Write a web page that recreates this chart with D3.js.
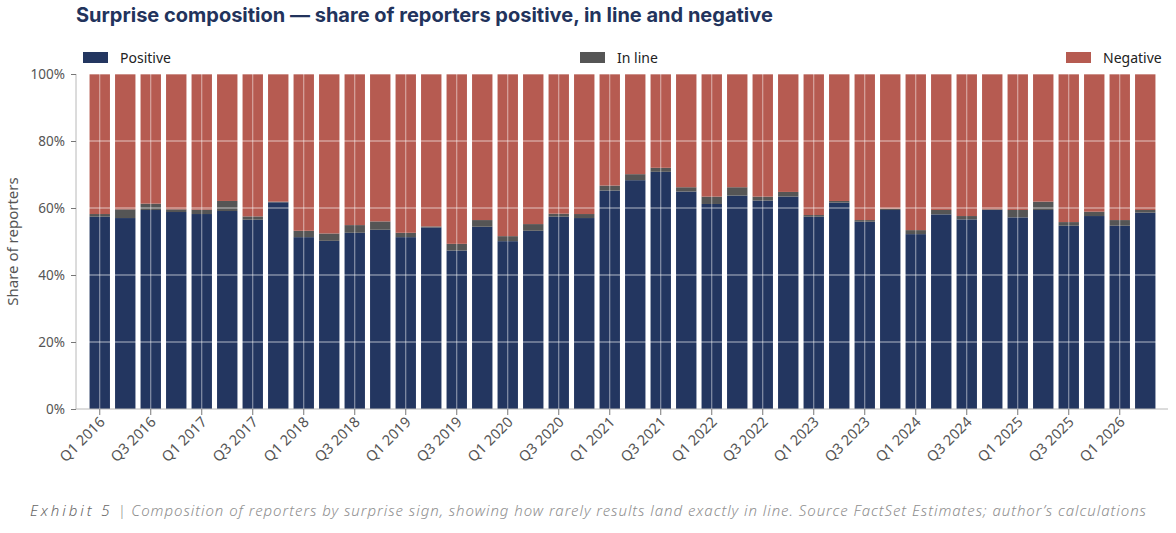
<!DOCTYPE html>
<html>
<head>
<meta charset="utf-8">
<script src="https://cdn.jsdelivr.net/npm/d3@7"></script>
<style>
  body { margin: 0; background: #fff; }
  svg { display: block; }
</style>
</head>
<body>
<script>
var quarters = [];
for (var yr = 2016; yr <= 2026; yr++) {
    for (var q = 1; q <= 4; q++) {
        if (yr === 2026 && q > 2) break;
        quarters.push("Q" + q + " " + yr);
    }
}

// share of reporters, %
var positive = [57.4, 57.0, 59.4, 58.8, 58.2, 59.1, 56.5, 61.7, 51.3, 50.2,
                52.6, 53.5, 51.3, 54.2, 47.3, 54.4, 50.1, 53.2, 57.4, 57.0,
                65.2, 68.3, 70.8, 64.9, 61.2, 63.7, 62.2, 63.4, 57.4, 61.6,
                55.9, 59.4, 52.2, 58.1, 56.6, 59.4, 57.2, 59.4, 54.7, 57.6,
                54.7, 58.6];
var inLine   = [0.8, 2.6, 1.9, 0.8, 1.3, 3.0, 1.0, 0.2, 1.9, 2.2,
                2.3, 2.5, 1.3, 0.3, 2.0, 2.0, 1.5, 2.0, 0.9, 1.2,
                1.5, 1.8, 1.2, 1.3, 2.2, 2.5, 1.2, 1.4, 0.5, 0.5,
                0.5, 0.4, 1.2, 1.3, 1.0, 0.2, 2.2, 2.5, 1.1, 1.3,
                1.7, 0.8];
var yTicks = [0, 20, 40, 60, 80, 100];

var series = ["Positive", "In line", "Negative"];
var colors = {"Positive": "#233660", "In line": "#555555", "Negative": "#b65b51"};

var rows = quarters.map((d, i) => ({
    q: d,
    "Positive": positive[i],
    "In line": inLine[i],
    "Negative": 100 - positive[i] - inLine[i]
}));

var width   = 1176,
    height  = 533,
    plotL   = 76,
    plotR   = 1168,
    plotT   = 74,
    plotB   = 409;

const svg = d3.select("body")
    .append("svg")
    .attr("width", width)
    .attr("height", height);

const x = d3.scaleBand()
    .domain(quarters)
    .range([87, 1158])
    .paddingInner(0.2)
    .paddingOuter(0.1);

const y = d3.scaleLinear()
    .domain([0, 100])
    .range([plotB, plotT]);

const stacked = d3.stack().keys(series)(rows);

svg.append("g")
    .selectAll("g")
    .data(stacked)
    .join("g")
    .attr("fill", d => colors[d.key])
    .selectAll("rect")
    .data(d => d)
    .join("rect")
    .attr("x", d => x(d.data.q))
    .attr("y", d => y(d[1]))
    .attr("width", x.bandwidth())
    .attr("height", d => y(d[0]) - y(d[1]));

// gridlines drawn over the bars
var tickQuarters = quarters.filter((d, i) => i % 2 === 0);

svg.append("g")
    .selectAll("line")
    .data(yTicks.slice(1))
    .join("line")
    .attr("x1", plotL)
    .attr("x2", plotR)
    .attr("y1", d => y(d))
    .attr("y2", d => y(d))
    .style("stroke", "#fff")
    .style("stroke-opacity", 0.65)
    .style("stroke-width", 1);

svg.append("g")
    .selectAll("line")
    .data(tickQuarters)
    .join("line")
    .attr("x1", d => x(d) + x.bandwidth() / 2)
    .attr("x2", d => x(d) + x.bandwidth() / 2)
    .attr("y1", plotT)
    .attr("y2", plotB)
    .style("stroke", "#fff")
    .style("stroke-opacity", 0.55)
    .style("stroke-width", 1);

// axes
var axisColor = "#b8b8b8";
var labelColor = "#555";
var font = "'Noto Sans', 'Open Sans', sans-serif";

const yAxis = svg.append("g")
    .attr("transform", `translate(${plotL},0)`)
    .call(d3.axisLeft(y).tickValues(yTicks).tickFormat(d => d + "%").tickSize(5).tickPadding(6));
yAxis.select(".domain").attr("stroke", axisColor).attr("d", `M0,${plotT}V${plotB}`);
yAxis.selectAll(".tick line").attr("stroke", "#777");
yAxis.selectAll("text")
    .style("font-family", font)
    .style("font-size", "13.5px")
    .attr("fill", labelColor);

const xAxis = svg.append("g")
    .attr("transform", `translate(0,${plotB})`)
    .call(d3.axisBottom(x).tickValues(tickQuarters).tickSize(6).tickSizeOuter(0));
xAxis.select(".domain").attr("stroke", axisColor).attr("d", `M${plotL},0H${plotR}`);
xAxis.selectAll(".tick line").attr("stroke", "#777");
xAxis.selectAll("text")
    .style("font-family", font)
    .style("font-size", "14.5px")
    .attr("fill", labelColor)
    .attr("text-anchor", "end")
    .attr("dy", null)
    .attr("y", 0)
    .attr("transform", "translate(6,14) rotate(-45)");

svg.append("text")
    .attr("transform", `translate(18,${(plotT + plotB) / 2}) rotate(-90)`)
    .attr("text-anchor", "middle")
    .style("font-family", font)
    .style("font-size", "15px")
    .attr("fill", labelColor)
    .text("Share of reporters");

// title
svg.append("text")
    .attr("x", plotL)
    .attr("y", 22)
    .style("font-family", "Inter, 'Noto Sans', sans-serif")
    .style("font-weight", 700)
    .style("font-size", "20px")
    .attr("fill", "#22335c")
    .text("Surprise composition \u2014 share of reporters positive, in line and negative");

// legend
var legendPos = [
    {key: "Positive", x: 83},
    {key: "In line", x: 580},
    {key: "Negative", x: 1066}
];
const legend = svg.append("g")
    .selectAll("g")
    .data(legendPos)
    .join("g")
    .attr("transform", d => `translate(${d.x},52)`);
legend.append("rect")
    .attr("width", 25)
    .attr("height", 11)
    .attr("fill", d => colors[d.key]);
legend.append("text")
    .attr("x", 37)
    .attr("y", 11)
    .style("font-family", font)
    .style("font-size", "14px")
    .attr("fill", "#222")
    .text(d => d.key);

// caption
const cap = svg.append("text")
    .attr("x", 30)
    .attr("y", 516)
    .attr("textLength", 1116)
    .attr("lengthAdjust", "spacing")
    .style("font-family", font)
    .style("font-style", "italic")
    .style("font-weight", 300)
    .style("font-size", "15px")
    .attr("fill", "#8e8e8e");
cap.append("tspan")
    .attr("fill", "#666")
    .style("letter-spacing", "2px")
    .text("Exhibit 5");
cap.append("tspan")
    .text(" | Composition of reporters by surprise sign, showing how rarely results land exactly in line. Source  FactSet Estimates; author\u2019s calculations");
</script>
</body>
</html>
